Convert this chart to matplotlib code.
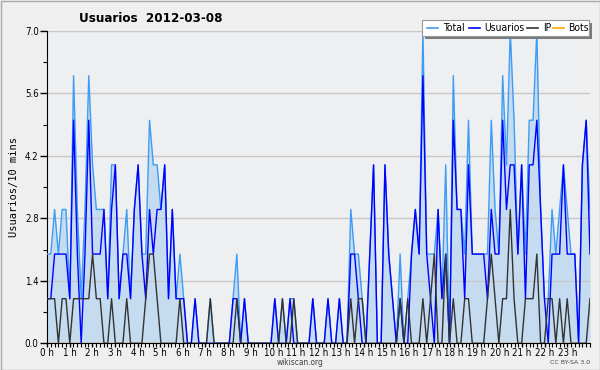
import matplotlib
matplotlib.use("Agg")
import matplotlib.pyplot as plt
import numpy as np
from matplotlib.patches import Rectangle
from matplotlib import font_manager as fm

# 10-minute slots, 144 per day
usuarios = [1,1,2,2,2,2,1,5,2,0, 2,5,2,2,2,3,1,3,4,1,
            2,2,1,3,4,2,1,3,2,3, 3,4,1,3,1,1,1,0,0,1,
            0,0,0,0,0,0,0,0,0,1, 1,0,1,0,0,0,0,0,0,0,
            1,0,0,0,1,0,0,0,0,0, 1,0,0,0,1,0,0,1,0,0,
            2,2,1,0,0,2,4,0,0,4, 2,1,0,1,0,0,2,3,2,6,
            2,1,0,3,1,2,0,5,3,3, 1,4,2,2,2,2,1,3,2,2,
            5,3,4,4,2,4,1,4,4,5, 3,1,0,2,2,2,4,2,2,2,
            0,4,5,2]
ip =       [1,1,1,0,1,1,0,1,1,1, 1,1,2,1,1,0,0,1,0,0,
            0,1,0,0,0,0,1,2,2,1, 0,0,0,0,0,1,0,0,0,0,
            0,0,0,1,0,0,0,0,0,0, 1,0,0,0,0,0,0,0,0,0,
            0,0,1,0,0,1,0,0,0,0, 0,0,0,0,0,0,0,0,0,0,
            1,0,1,1,0,0,0,0,0,0, 0,0,0,1,0,1,0,0,0,1,
            0,1,2,0,0,2,0,1,0,0, 1,1,0,0,0,0,1,2,1,0,
            1,1,3,1,0,0,1,1,1,2, 0,0,1,1,0,1,0,1,0,0,
            0,0,0,1]
total =    [2,2,3,2,3,3,1,6,3,1, 3,6,4,3,3,3,1,4,4,1,
            2,3,1,3,4,2,2,5,4,4, 3,4,1,3,1,2,1,0,0,1,
            0,0,0,1,0,0,0,0,0,1, 2,0,1,0,0,0,0,0,0,0,
            1,0,1,0,1,1,0,0,0,0, 1,0,0,0,1,0,0,1,0,0,
            3,2,2,1,0,2,4,0,0,4, 2,1,0,2,0,1,2,3,2,7,
            2,2,2,3,1,4,0,6,3,3, 2,5,2,2,2,2,2,5,3,2,
            6,4,7,5,2,4,2,5,5,7, 3,1,1,3,2,3,4,3,2,2,
            0,4,5,3]
bots = [0] * 144
hour_labels = [f"{h} h" for h in range(24)]
yticks = [0.0, 1.4, 2.8, 4.2, 5.6, 7.0]

# pick a condensed sans if available
cond = dict(family="Liberation Sans")
try:
    p = fm.findfont(fm.FontProperties(family="DejaVu Sans", stretch="condensed"), fallback_to_default=False)
    if "Condensed" in p:
        cond = dict(family="DejaVu Sans", stretch="condensed")
except Exception:
    pass

W, H = 600, 370
fig = plt.figure(figsize=(W/100, H/100), dpi=100)
fig.patch.set_facecolor("#efefef")
ax = fig.add_axes([47/W, 1-343.3/H, (590-47)/W, (343.3-31)/H])
ax.set_facecolor("#eeeff0")

x = np.arange(len(total))
c_total = "#3d9cf5"
c_user = "#0000ff"
c_ip = "#333333"
c_bots = "#ffa500"

ax.fill_between(x, total, 0, color="#c5dcf0", lw=0, zorder=1)
ax.plot(x, bots, color=c_bots, lw=1.0, zorder=1.5)
ax.plot(x, total, color=c_total, lw=1.0, zorder=3)
ax.plot(x, usuarios, color=c_user, lw=1.0, zorder=4)
ax.plot(x, ip, color=c_ip, lw=1.0, zorder=5)

ax.set_xlim(0, len(total)-1)
ax.set_ylim(0, 7.0)
ax.set_yticks(yticks)
ax.set_yticklabels([f"{v:.1f}" for v in yticks])
ax.set_yticks(np.arange(0, 7.01, 0.7), minor=True)
ax.grid(axis="y", which="major", color="#c8c8c8", lw=1.0, zorder=0)

span = len(total) - 1
ax.set_xticks([h*span/24 for h in range(24)])
ax.set_xticklabels(hour_labels)
ax.set_xticks([k*span/144 for k in range(145)], minor=True)

for s in ["top", "right"]:
    ax.spines[s].set_visible(False)
ax.spines["left"].set_color("black")
ax.spines["bottom"].set_color("black")
ax.spines["bottom"].set_zorder(6)
ax.tick_params(axis="both", which="major", length=4, width=1, color="black", pad=1)
ax.tick_params(axis="x", which="major", length=3, pad=0.5)
ax.tick_params(axis="both", which="minor", length=3, width=0.8)
ax.tick_params(axis="y", which="major", length=5, pad=1)
for t in ax.get_xticklabels() + ax.get_yticklabels():
    t.set_fontsize(7)
    t.set_fontproperties(fm.FontProperties(size=7, **cond))

ax.set_ylabel("Usuarios/10 mins", family="DejaVu Sans Mono", fontsize=7.5, labelpad=4)

fig.text(151/W, 1-18/H, "Usuarios  2012-03-08", fontsize=9.5, fontweight="bold",
         va="center", ha="center", **cond)
fig.text(300/W, 1-362.5/H, "wikiscan.org", fontsize=6, color="#444444", ha="center", va="center", **cond)
fig.text(590/W, 1-362.5/H, "CC BY-SA 3.0", fontsize=4.5, color="#444444", ha="right", va="center")

# legend with shadow
lx0, ly0, lx1, ly1 = 422, 20, 589, 36
fig.patches.append(Rectangle(((lx0+3)/W, 1-(ly1+3)/H), (lx1-lx0)/W, (ly1-ly0)/H, transform=fig.transFigure,
                             facecolor="#7a7a7a", edgecolor="none", zorder=5))
fig.patches.append(Rectangle((lx0/W, 1-ly1/H), (lx1-lx0)/W, (ly1-ly0)/H, transform=fig.transFigure,
                             facecolor="white", edgecolor="#999999", lw=0.8, zorder=6))
entries = [("Total", c_total, 427, 443), ("Usuarios", c_user, 469, 484),
           ("IP", c_ip, 527, 543), ("Bots", c_bots, 553, 568)]
ymid = 1-((ly0+ly1)/2)/H
for name, col, px, tx in entries:
    fig.lines.append(plt.Line2D([px/W, (px+11)/W], [ymid, ymid], transform=fig.transFigure,
                                color=col, lw=1.2, zorder=7))
    fig.text(tx/W, ymid, name, fontsize=7.5, va="center", ha="left", zorder=7, **cond)

# outer border
fig.patches.append(Rectangle((0.5/W, 0.5/H), (W-1)/W, (H-1)/H, transform=fig.transFigure,
                             facecolor="none", edgecolor="#aaaaaa", lw=1, zorder=10))

fig.savefig("out.png", dpi=100, facecolor=fig.get_facecolor())
